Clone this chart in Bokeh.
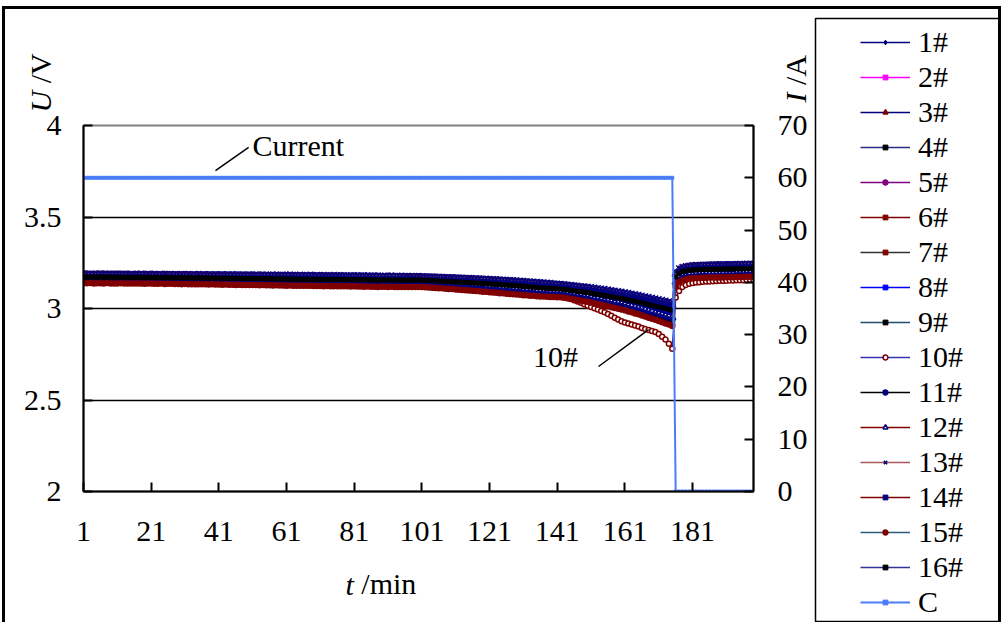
import math
from bokeh.plotting import figure
from bokeh.layouts import row
from bokeh.models import (Range1d, LinearAxis, FixedTicker, Legend, LegendItem, Label,
                          CustomJSTickFormatter)
from bokeh.embed import file_html
from bokeh.resources import INLINE

# ---------------- data ----------------
minutes = list(range(1, 200))
x_ticks = [1, 21, 41, 61, 81, 101, 121, 141, 161, 181]
u_ticks = [2, 2.5, 3, 3.5, 4]
i_ticks = [0, 10, 20, 30, 40, 50, 60, 70]

current_A = [60] * 175 + [0] * 24

# cell voltages in mV, one value per minute
v1 = [3186,3185,3185,3184,3186,3185,3184,3185,3185,3184,3185,3184,3184,3185,3183,3184,3184,3183,3184,3183,
      3184,3183,3183,3182,3184,3183,3182,3183,3182,3182,3183,3182,3181,3182,3182,3181,3182,3181,3181,3180,
      3181,3180,3181,3180,3179,3180,3180,3179,3180,3179,3179,3178,3179,3178,3178,3177,3178,3177,3177,3178,
      3177,3176,3177,3176,3176,3177,3175,3176,3176,3175,3176,3175,3175,3174,3175,3174,3174,3175,3173,3174,
      3174,3173,3174,3173,3173,3172,3173,3173,3172,3172,3173,3172,3172,3171,3172,3171,3171,3172,3171,3172,
      3171,3170,3169,3169,3168,3167,3167,3166,3165,3164,3164,3163,3162,3161,3160,3159,3158,3157,3156,3155,
      3154,3153,3152,3151,3150,3148,3147,3146,3144,3143,3142,3141,3139,3138,3137,3135,3134,3133,3131,3130,
      3129,3128,3126,3124,3122,3120,3118,3115,3113,3110,3107,3104,3102,3099,3096,3093,3091,3088,3085,3082,
      3079,3076,3072,3069,3065,3061,3057,3053,3049,3045,3041,3037,3033,3029,3025,
      3193,3213,3221,3225,3228,3230,3231,3232,3233,3233,3234,3234,3235,3235,3235,3236,3236,3236,3237,3237,3237,3238,3238,3238]
v2 = [3167,3168,3167,3166,3167,3167,3166,3168,3166,3166,3166,3167,3165,3166,3166,3165,3166,3165,3165,3164,
      3165,3165,3164,3164,3165,3163,3164,3164,3163,3163,3163,3162,3163,3162,3162,3161,3162,3161,3161,3161,
      3160,3161,3160,3160,3159,3160,3159,3159,3158,3159,3158,3158,3157,3158,3157,3157,3156,3157,3156,3156,
      3155,3156,3155,3155,3154,3155,3154,3154,3153,3154,3153,3153,3152,3153,3152,3152,3153,3151,3152,3152,
      3151,3152,3151,3151,3150,3151,3151,3150,3151,3150,3150,3151,3149,3150,3150,3149,3150,3150,3149,3150,
      3149,3148,3147,3146,3145,3144,3143,3142,3141,3140,3139,3138,3137,3136,3135,3134,3132,3131,3130,3129,
      3128,3126,3125,3124,3122,3121,3119,3118,3117,3115,3114,3112,3111,3109,3108,3106,3105,3103,3102,3101,
      3100,3099,3096,3094,3091,3088,3086,3083,3080,3077,3074,3070,3067,3063,3060,3057,3053,3050,3046,3043,
      3039,3035,3030,3026,3022,3017,3012,3008,3003,2998,2993,2989,2984,2980,2975,
      3163,3183,3191,3195,3198,3200,3201,3202,3203,3203,3204,3204,3205,3205,3205,3206,3206,3206,3207,3207,3207,3208,3208,3208]
v3 = [3182,3183,3181,3182,3182,3181,3183,3182,3181,3182,3181,3182,3180,3181,3181,3180,3182,3180,3180,3181,
      3180,3179,3180,3179,3180,3178,3179,3179,3178,3179,3178,3177,3178,3178,3177,3177,3178,3176,3177,3176,
      3177,3176,3176,3175,3176,3175,3175,3176,3174,3175,3175,3174,3174,3175,3173,3174,3173,3173,3174,3172,
      3173,3173,3172,3172,3173,3171,3172,3172,3171,3171,3172,3171,3170,3171,3170,3170,3171,3169,3170,3170,
      3169,3170,3169,3169,3168,3169,3169,3168,3168,3169,3168,3168,3167,3168,3168,3167,3167,3168,3167,3168,
      3167,3166,3165,3165,3164,3163,3162,3162,3161,3160,3159,3158,3158,3157,3156,3155,3154,3153,3152,3151,
      3150,3149,3147,3146,3145,3143,3142,3141,3139,3138,3137,3135,3134,3133,3131,3130,3128,3127,3125,3124,
      3123,3122,3120,3118,3115,3113,3111,3109,3106,3104,3101,3098,3095,3092,3089,3087,3084,3081,3078,3075,
      3071,3068,3064,3061,3057,3053,3049,3045,3041,3037,3033,3029,3025,3021,3017,
      3188,3208,3216,3220,3223,3225,3226,3227,3228,3228,3229,3229,3230,3230,3230,3231,3231,3231,3232,3232,3232,3233,3233,3233]
v4 = [3175,3176,3175,3174,3175,3175,3174,3176,3175,3174,3174,3175,3174,3173,3174,3174,3173,3174,3173,3173,
      3173,3172,3173,3172,3172,3173,3171,3172,3172,3171,3171,3172,3170,3171,3171,3170,3170,3171,3169,3170,
      3170,3169,3169,3170,3168,3169,3168,3168,3169,3167,3168,3167,3167,3168,3166,3167,3166,3166,3167,3165,
      3166,3165,3165,3166,3164,3165,3164,3164,3165,3163,3164,3163,3164,3163,3163,3162,3163,3163,3162,3162,
      3162,3163,3161,3162,3162,3161,3161,3162,3160,3161,3161,3160,3161,3160,3160,3161,3159,3160,3160,3160,
      3159,3158,3157,3156,3156,3155,3154,3153,3152,3151,3150,3149,3148,3147,3146,3145,3144,3143,3142,3141,
      3140,3139,3137,3136,3135,3133,3132,3131,3129,3128,3127,3125,3124,3122,3121,3119,3118,3116,3115,3114,
      3113,3112,3109,3107,3104,3102,3099,3097,3094,3092,3089,3086,3083,3080,3077,3073,3070,3067,3064,3061,
      3057,3053,3050,3046,3042,3038,3033,3029,3024,3020,3016,3011,3007,3002,2998,
      3178,3198,3206,3210,3213,3215,3216,3217,3218,3218,3219,3219,3220,3220,3220,3221,3221,3221,3222,3222,3222,3223,3223,3223]
v5 = [3164,3164,3165,3163,3164,3164,3163,3164,3163,3163,3163,3164,3162,3163,3163,3162,3162,3163,3161,3162,
      3162,3161,3161,3162,3160,3161,3161,3160,3160,3160,3159,3160,3159,3159,3158,3159,3158,3158,3157,3158,
      3157,3157,3156,3157,3156,3156,3155,3156,3155,3155,3154,3155,3154,3154,3153,3154,3153,3153,3152,3153,
      3152,3152,3151,3152,3151,3151,3150,3151,3150,3150,3149,3150,3149,3149,3148,3149,3148,3148,3148,3147,
      3148,3147,3147,3148,3146,3147,3147,3146,3147,3146,3146,3147,3145,3146,3146,3145,3146,3146,3145,3146,
      3145,3144,3143,3142,3141,3140,3139,3138,3137,3136,3135,3133,3132,3131,3130,3129,3128,3126,3125,3124,
      3123,3121,3120,3118,3117,3116,3114,3113,3111,3110,3108,3107,3105,3104,3102,3101,3099,3098,3097,3096,
      3095,3094,3091,3088,3086,3083,3080,3078,3075,3072,3068,3065,3061,3058,3054,3051,3047,3044,3040,3037,
      3033,3028,3024,3019,3015,3010,3005,3000,2995,2990,2985,2981,2976,2972,2967,
      3158,3178,3186,3190,3193,3195,3196,3197,3198,3198,3199,3199,3200,3200,3200,3201,3201,3201,3202,3202,3202,3203,3203,3203]
v6 = [3161,3160,3160,3161,3159,3160,3160,3159,3161,3159,3159,3160,3158,3159,3159,3158,3159,3158,3158,3157,
      3158,3157,3157,3158,3156,3157,3157,3156,3156,3156,3155,3156,3155,3155,3154,3155,3154,3154,3153,3154,
      3153,3153,3152,3153,3152,3152,3151,3152,3151,3151,3150,3151,3150,3150,3149,3150,3149,3149,3148,3149,
      3148,3148,3147,3148,3147,3147,3146,3147,3146,3146,3145,3146,3145,3145,3144,3145,3144,3144,3144,3143,
      3144,3143,3143,3144,3142,3143,3143,3142,3143,3142,3142,3143,3141,3142,3142,3141,3142,3142,3141,3142,
      3141,3140,3139,3138,3137,3136,3135,3134,3133,3132,3131,3129,3128,3127,3126,3124,3123,3122,3120,3119,
      3118,3116,3115,3113,3112,3110,3109,3107,3106,3104,3103,3101,3100,3098,3097,3095,3094,3093,3092,3091,
      3090,3090,3087,3084,3081,3078,3075,3073,3070,3067,3063,3060,3056,3052,3049,3045,3042,3038,3035,3031,
      3026,3022,3017,3013,3008,3003,2998,2993,2988,2983,2978,2973,2968,2963,2958,
      3150,3172,3181,3185,3188,3190,3191,3192,3193,3193,3194,3194,3195,3195,3195,3196,3196,3196,3197,3197,3197,3198,3198,3198]
v7 = [3151,3150,3150,3151,3149,3150,3150,3149,3150,3149,3149,3150,3148,3149,3149,3148,3148,3149,3147,3148,
      3148,3147,3147,3148,3146,3147,3147,3146,3146,3145,3146,3145,3145,3144,3145,3144,3144,3143,3144,3143,
      3143,3142,3143,3142,3142,3141,3142,3141,3141,3140,3140,3141,3139,3140,3139,3139,3138,3139,3138,3138,
      3137,3138,3137,3137,3136,3137,3136,3136,3135,3135,3135,3134,3135,3134,3134,3133,3134,3133,3133,3132,
      3133,3132,3132,3131,3132,3131,3131,3130,3131,3131,3130,3131,3130,3130,3129,3130,3130,3129,3130,3130,
      3129,3128,3127,3126,3125,3124,3122,3121,3120,3119,3118,3116,3115,3114,3112,3111,3110,3108,3107,3105,
      3104,3102,3101,3099,3098,3096,3094,3093,3091,3090,3088,3087,3085,3084,3082,3081,3079,3078,3077,3077,
      3076,3076,3073,3070,3067,3064,3061,3058,3055,3052,3048,3044,3040,3036,3032,3028,3024,3020,3016,3012,
      3007,3002,2997,2992,2987,2982,2976,2971,2965,2960,2955,2949,2944,2938,2933,
      3133,3156,3165,3170,3173,3175,3176,3177,3178,3178,3179,3179,3180,3180,3180,3181,3181,3181,3182,3182,3182,3183,3183,3183]
v8 = [3170,3170,3169,3171,3170,3169,3170,3170,3169,3169,3169,3170,3168,3169,3169,3168,3168,3169,3167,3168,
      3168,3167,3167,3168,3166,3167,3167,3166,3166,3167,3165,3166,3166,3165,3165,3164,3165,3165,3164,3164,
      3163,3164,3163,3163,3162,3163,3162,3162,3161,3162,3161,3161,3160,3161,3160,3160,3159,3160,3159,3159,
      3158,3159,3158,3158,3157,3158,3157,3157,3156,3157,3156,3156,3155,3156,3155,3155,3156,3154,3155,3155,
      3154,3155,3154,3154,3153,3154,3154,3153,3153,3154,3153,3153,3152,3153,3153,3152,3153,3152,3153,3153,
      3152,3151,3150,3149,3148,3147,3146,3145,3144,3143,3142,3141,3140,3139,3138,3137,3136,3134,3133,3132,
      3131,3130,3128,3127,3126,3124,3123,3121,3120,3119,3117,3116,3114,3113,3111,3110,3108,3107,3106,3105,
      3104,3103,3100,3098,3095,3093,3090,3087,3085,3082,3079,3075,3072,3069,3065,3062,3059,3055,3052,3049,
      3045,3041,3037,3032,3028,3023,3019,3014,3010,3005,3000,2996,2991,2987,2982,
      3168,3188,3196,3200,3203,3205,3206,3207,3208,3208,3209,3209,3210,3210,3210,3211,3211,3211,3212,3212,3212,3213,3213,3213]
v9 = [3145,3146,3145,3144,3145,3146,3144,3145,3145,3144,3144,3145,3143,3144,3144,3143,3144,3143,3143,3142,
      3143,3142,3142,3143,3141,3142,3142,3141,3141,3140,3141,3140,3140,3139,3140,3139,3139,3138,3139,3138,
      3138,3137,3138,3137,3137,3136,3137,3136,3136,3135,3135,3136,3134,3135,3134,3134,3133,3134,3133,3133,
      3132,3133,3132,3132,3131,3132,3131,3131,3130,3130,3130,3129,3130,3129,3129,3128,3129,3128,3128,3127,
      3128,3127,3127,3126,3127,3126,3126,3125,3126,3126,3125,3126,3125,3125,3124,3125,3125,3124,3125,3125,
      3124,3123,3122,3121,3119,3118,3117,3116,3114,3113,3112,3110,3109,3108,3106,3105,3103,3102,3100,3099,
      3097,3096,3094,3093,3091,3089,3088,3086,3085,3083,3082,3080,3079,3077,3076,3074,3073,3072,3071,3071,
      3070,3070,3067,3064,3061,3058,3054,3051,3048,3045,3041,3037,3033,3029,3024,3020,3016,3012,3008,3004,
      2999,2994,2988,2983,2978,2972,2967,2961,2956,2950,2944,2939,2933,2928,2922,
      3128,3151,3160,3165,3168,3170,3171,3172,3173,3173,3174,3174,3175,3175,3175,3176,3176,3176,3177,3177,3177,3178,3178,3178]
v10 = [3150,3151,3150,3149,3150,3150,3149,3151,3149,3149,3149,3150,3148,3149,3149,3148,3148,3149,3147,3148,
       3148,3147,3147,3148,3146,3147,3147,3146,3146,3145,3146,3145,3145,3144,3145,3144,3144,3143,3144,3143,
       3143,3142,3143,3142,3142,3141,3142,3141,3141,3140,3140,3141,3139,3140,3139,3139,3138,3139,3138,3138,
       3137,3138,3137,3137,3136,3137,3136,3136,3135,3135,3135,3134,3135,3134,3134,3134,3133,3134,3133,3133,
       3133,3132,3133,3132,3132,3132,3131,3132,3131,3132,3131,3132,3131,3131,3130,3131,3131,3130,3131,3132,
       3131,3130,3129,3128,3127,3125,3124,3123,3121,3120,3119,3117,3116,3114,3113,3111,3109,3108,3106,3104,
       3103,3101,3100,3098,3097,3095,3093,3091,3089,3086,3084,3083,3082,3081,3080,3079,3077,3076,3075,3073,
       3072,3070,3064,3058,3052,3045,3038,3031,3023,3015,3008,3001,2994,2987,2980,2970,2960,2950,2940,2930,
       2924,2918,2912,2907,2901,2894,2888,2882,2877,2872,2860,2845,2830,2808,2780,
       3060,3095,3118,3128,3135,3139,3142,3144,3146,3147,3148,3149,3150,3151,3151,3152,3153,3153,3154,3154,3155,3155,3156,3156]
v11 = [3178,3179,3178,3177,3178,3179,3177,3178,3178,3177,3178,3177,3177,3178,3176,3177,3177,3176,3177,3176,
       3176,3177,3175,3176,3176,3175,3176,3175,3174,3175,3175,3174,3175,3174,3173,3174,3174,3173,3173,3174,
       3173,3172,3173,3172,3172,3171,3172,3172,3171,3171,3171,3170,3171,3170,3170,3171,3169,3170,3169,3169,
       3169,3168,3169,3168,3168,3168,3167,3168,3167,3167,3167,3166,3167,3166,3166,3166,3165,3166,3166,3165,
       3165,3166,3165,3165,3164,3165,3165,3164,3164,3165,3164,3164,3163,3164,3164,3163,3163,3164,3163,3164,
       3163,3162,3161,3160,3160,3159,3158,3157,3156,3156,3155,3154,3153,3152,3151,3150,3149,3148,3147,3146,
       3145,3144,3142,3141,3140,3138,3137,3136,3134,3133,3132,3130,3129,3127,3126,3124,3123,3122,3120,3119,
       3118,3117,3115,3112,3110,3108,3105,3103,3100,3098,3095,3092,3089,3086,3083,3080,3077,3074,3071,3068,
       3064,3061,3057,3054,3050,3046,3042,3037,3033,3029,3025,3021,3017,3012,3008,
       3183,3203,3211,3215,3218,3220,3221,3222,3223,3223,3224,3224,3225,3225,3225,3226,3226,3226,3227,3227,3227,3228,3228,3228]
v12 = [3157,3158,3157,3156,3157,3158,3156,3157,3157,3156,3156,3157,3155,3156,3156,3155,3156,3155,3155,3154,
       3155,3154,3154,3155,3153,3154,3154,3153,3153,3152,3153,3152,3152,3151,3152,3151,3151,3150,3151,3150,
       3150,3149,3150,3149,3149,3148,3149,3148,3148,3147,3147,3148,3146,3147,3146,3146,3145,3146,3145,3145,
       3144,3145,3144,3144,3143,3144,3143,3143,3142,3143,3142,3142,3141,3142,3141,3141,3140,3141,3140,3140,
       3140,3139,3140,3139,3139,3139,3138,3139,3138,3139,3138,3138,3137,3138,3138,3137,3138,3138,3137,3138,
       3137,3136,3135,3134,3133,3132,3131,3130,3128,3127,3126,3125,3124,3122,3121,3120,3118,3117,3116,3114,
       3113,3111,3110,3108,3107,3105,3104,3102,3101,3099,3098,3096,3095,3093,3092,3090,3089,3088,3087,3086,
       3086,3085,3082,3079,3076,3073,3070,3068,3065,3062,3058,3054,3051,3047,3043,3040,3036,3032,3029,3025,
       3020,3015,3011,3006,3001,2996,2991,2985,2980,2975,2970,2965,2960,2955,2950,
       3145,3167,3176,3180,3183,3185,3186,3187,3188,3188,3189,3189,3190,3190,3190,3191,3191,3191,3192,3192,3192,3193,3193,3193]
v13 = [3192,3190,3191,3189,3190,3192,3190,3189,3191,3190,3190,3191,3189,3190,3190,3188,3190,3191,3189,3190,
       3189,3190,3188,3189,3190,3188,3189,3189,3187,3189,3188,3189,3187,3188,3189,3187,3188,3188,3186,3188,
       3187,3188,3186,3187,3188,3186,3187,3187,3185,3187,3186,3187,3185,3186,3186,3184,3186,3186,3184,3185,
       3185,3186,3184,3184,3185,3183,3184,3185,3183,3184,3183,3184,3182,3183,3184,3182,3183,3183,3181,3182,
       3182,3183,3181,3181,3182,3180,3181,3181,3179,3180,3180,3181,3179,3179,3180,3178,3178,3179,3177,3178,
       3177,3176,3176,3175,3174,3174,3173,3172,3172,3171,3170,3169,3169,3168,3167,3166,3166,3165,3164,3163,
       3162,3161,3160,3159,3158,3157,3156,3155,3154,3152,3151,3150,3148,3147,3146,3144,3143,3141,3140,3138,
       3136,3135,3133,3131,3129,3127,3125,3123,3121,3119,3117,3114,3112,3109,3107,3104,3101,3098,3095,3092,
       3089,3085,3082,3078,3075,3071,3067,3063,3059,3055,3051,3047,3043,3039,3035,
       3200,3220,3228,3232,3235,3237,3238,3239,3240,3240,3241,3241,3242,3242,3242,3243,3243,3243,3244,3244,3244,3245,3245,3245]
v14 = [3154,3154,3155,3153,3154,3154,3153,3155,3153,3153,3153,3154,3152,3153,3153,3152,3152,3153,3151,3152,
       3152,3151,3151,3152,3150,3151,3151,3150,3150,3149,3150,3149,3149,3148,3149,3148,3148,3147,3148,3147,
       3147,3146,3147,3146,3146,3145,3146,3145,3145,3144,3144,3145,3143,3144,3143,3143,3142,3143,3142,3142,
       3141,3142,3141,3141,3140,3141,3140,3140,3139,3140,3139,3139,3138,3139,3138,3138,3137,3138,3137,3137,
       3137,3136,3137,3136,3136,3136,3135,3136,3135,3136,3135,3135,3134,3135,3135,3134,3135,3135,3134,3135,
       3134,3133,3132,3131,3130,3129,3127,3126,3125,3124,3123,3121,3120,3119,3117,3116,3115,3113,3112,3110,
       3109,3107,3106,3104,3103,3101,3100,3098,3096,3095,3093,3092,3090,3089,3087,3086,3084,3083,3082,3082,
       3081,3081,3078,3075,3072,3069,3066,3063,3060,3057,3053,3049,3045,3042,3038,3034,3030,3026,3023,3019,
       3014,3009,3004,3000,2995,2990,2984,2979,2973,2968,2963,2958,2952,2947,2942,
       3140,3162,3171,3175,3178,3180,3181,3182,3183,3183,3184,3184,3185,3185,3185,3186,3186,3186,3187,3187,3187,3188,3188,3188]
v15 = [3138,3138,3139,3137,3138,3138,3137,3139,3137,3137,3137,3138,3136,3137,3137,3136,3136,3137,3135,3136,
       3136,3135,3135,3136,3134,3135,3135,3134,3134,3133,3134,3133,3133,3132,3133,3132,3132,3131,3132,3131,
       3131,3130,3131,3130,3130,3129,3130,3129,3129,3128,3128,3129,3127,3128,3127,3127,3126,3127,3126,3126,
       3125,3126,3125,3125,3124,3125,3124,3124,3123,3123,3123,3122,3123,3122,3122,3121,3122,3121,3121,3120,
       3121,3120,3120,3119,3120,3119,3119,3118,3119,3119,3118,3119,3118,3118,3117,3118,3118,3117,3118,3118,
       3117,3116,3115,3114,3112,3111,3110,3108,3107,3106,3104,3103,3101,3100,3098,3097,3095,3094,3092,3091,
       3089,3088,3086,3084,3083,3081,3079,3078,3076,3075,3073,3072,3070,3069,3067,3066,3065,3064,3063,3063,
       3062,3062,3059,3056,3053,3049,3046,3043,3040,3037,3033,3028,3024,3020,3016,3012,3007,3003,2999,2995,
       2990,2984,2979,2973,2968,2962,2956,2950,2944,2938,2932,2925,2918,2912,2905,
       3120,3145,3155,3160,3163,3165,3166,3167,3168,3168,3169,3169,3170,3170,3170,3171,3171,3171,3172,3172,3172,3173,3173,3173]
v16 = [3172,3171,3172,3172,3171,3173,3171,3171,3172,3170,3171,3171,3170,3171,3170,3170,3171,3169,3170,3170,
       3169,3170,3169,3168,3169,3169,3168,3168,3169,3167,3168,3168,3167,3167,3168,3166,3167,3167,3166,3166,
       3166,3165,3166,3165,3165,3164,3165,3164,3164,3163,3164,3163,3163,3162,3163,3162,3162,3161,3162,3161,
       3161,3160,3161,3160,3160,3159,3160,3159,3159,3158,3159,3158,3158,3159,3157,3158,3158,3157,3157,3158,
       3157,3156,3157,3157,3156,3156,3157,3155,3156,3156,3156,3155,3156,3155,3155,3156,3154,3155,3156,3156,
       3155,3154,3153,3152,3151,3150,3149,3148,3147,3146,3145,3144,3143,3142,3141,3140,3139,3138,3137,3136,
       3135,3133,3132,3131,3129,3128,3127,3125,3124,3123,3121,3120,3118,3117,3115,3114,3112,3111,3110,3109,
       3108,3107,3104,3102,3099,3097,3094,3092,3089,3087,3084,3080,3077,3074,3071,3068,3064,3061,3058,3055,
       3051,3047,3043,3039,3035,3030,3026,3021,3017,3012,3008,3003,2999,2994,2990,
       3173,3193,3201,3205,3208,3210,3211,3212,3213,3213,3214,3214,3215,3215,3215,3216,3216,3216,3217,3217,3217,3218,3218,3218]

series_names = ["1#", "2#", "3#", "4#", "5#", "6#", "7#", "8#",
                "9#", "10#", "11#", "12#", "13#", "14#", "15#", "16#"]
series_mv = [v1, v2, v3, v4, v5, v6, v7, v8, v9, v10, v11, v12, v13, v14, v15, v16]

# annotation texts and leader lines (x in minutes, y in V)
ann_current = "Current"
ann_cell = "10#"
lead_x0 = [40.0, 153.2]
lead_y0 = [3.754, 2.683]
lead_x1 = [49.8, 168.0]
lead_y1 = [3.880, 2.885]

# ---------------- styles ----------------
styles = [
    ("#000080", "diamond", "#000080", "#000080", 8),
    ("#FF00FF", "square", "#FF00FF", "#FF00FF", 4),
    ("#000080", "triangle", "#800000", "#800000", 7),
    ("#2B2B8C", "square", "#000000", "#000000", 4),
    ("#800080", "circle", "#800080", "#800080", 2),
    ("#800000", "square", "#800000", "#800000", 5),
    ("#333333", "square", "#800000", "#800000", 3),
    ("#0000FF", "square", "#0000FF", "#0000FF", 5),
    ("#1F4E6E", "square", "#000000", "#000000", 5),
    ("#3333B3", "circle", "#FFFFFF", "#800000", 5),
    ("#000000", "circle", "#000080", "#000080", 5),
    ("#800000", "triangle", "#FFFFFF", "#000080", 7),
    ("#A85858", "x", None, "#000080", 8),
    ("#800000", "square", "#000080", "#000080", 3),
    ("#2A5C7A", "circle", "#800000", "#800000", 5),
    ("#333399", "square", "#000000", "#000000", 4),
]
CUR = "#4A7CF7"
FONT = "Liberation Serif"
FS = "30px"
BORDER = "3px solid black"
NB = "\u00a0"

# main canvas sits at page (5, 9): CSS margin + border
OX, OY = 5, 9
WM, H = 812, 616
FL, FR, FT, FB = 83 - OX, 753 - OX, 125 - OY, 491 - OY

p = figure(width=WM, height=H, output_backend="svg", toolbar_location=None,
           x_range=Range1d(1, 199), y_range=Range1d(2, 4),
           min_border_left=FL, min_border_right=WM - FR,
           min_border_top=FT, min_border_bottom=H - FB)
p.margin = (6, 0, 0, 2)
p.styles = {"border-top": BORDER, "border-left": BORDER}
p.background_fill_color = "white"
p.border_fill_color = "white"
p.outline_line_color = "#808080"
p.outline_line_width = 2
p.xgrid.grid_line_color = None
p.ygrid.ticker = FixedTicker(ticks=[2.5, 3, 3.5])
p.ygrid.grid_line_color = "black"
p.ygrid.grid_line_width = 1.5

lax = p.left[0]
xax = p.below[0]
xax.ticker = FixedTicker(ticks=x_ticks)
lax.ticker = FixedTicker(ticks=u_ticks)
lax.formatter = CustomJSTickFormatter(code="return String(tick)")

p.extra_y_ranges = {"I": Range1d(0, 70)}
rax = LinearAxis(y_range_name="I", ticker=FixedTicker(ticks=i_ticks))
p.add_layout(rax, "right")

for ax in [xax, lax, rax]:
    ax.axis_line_color = "black"
    ax.axis_line_width = 2
    ax.major_tick_in = 9
    ax.major_tick_out = 0
    ax.major_tick_line_width = 2
    ax.major_tick_line_color = "black"
    ax.minor_tick_in = 0
    ax.minor_tick_out = 0
    ax.major_label_text_font = FONT
    ax.major_label_text_font_size = FS
    ax.major_label_text_color = "black"
xax.major_label_standoff = 30
lax.major_label_standoff = 22
rax.major_label_standoff = 24

legend_specs = []
for name, mv, st in zip(series_names, series_mv, styles):
    assert len(mv) == len(minutes), (name, len(mv))
    ys = [m / 1000.0 for m in mv]
    lc, mk, mf, ml, ms = st
    p.line(minutes, ys, line_color=lc, line_width=1.6)
    p.scatter(minutes, ys, marker=mk, size=ms, fill_color=mf, line_color=ml,
              line_width=1.5 if mk in ("x", "triangle", "circle") else 1)
    legend_specs.append((name, lc, mk, mf, ml))

p.line(minutes, current_A, y_range_name="I", line_color=CUR, line_width=2)
p.scatter(minutes, current_A, y_range_name="I", marker="square", size=3,
          fill_color=CUR, line_color=CUR)
legend_specs.append(("C", CUR, "square", CUR, CUR))

p.segment(x0=lead_x0, y0=lead_y0, x1=lead_x1, y1=lead_y1, line_color="black", line_width=1.5)

def lab(text, x, y, place, angle=0.0, style="normal", align="left"):
    p.add_layout(Label(x=x, y=y, x_units="screen", y_units="screen", text=text,
                       angle=angle, text_font=FONT, text_font_size=FS,
                       text_font_style=style, text_align=align,
                       text_baseline="middle", text_color="black"), place)

# axis titles live in side panels (positions are relative to their slot)
lab("U", -43, 13, "above", math.pi / 2, "italic")
lab(NB + "/V", -43, 12.7, "above", math.pi / 2)
lab("I", 712, -37, "above", math.pi / 2, "italic")
lab(NB + "/A", 712, -37, "above", math.pi / 2)
lab("t", 262, -8, "below", 0, "italic")
lab(NB + "/min", 270.3, 26, "below")

# in-plot annotations (frame relative)
p.add_layout(Label(x=169, y=346, x_units="screen", y_units="screen", text=ann_current,
                   text_font=FONT, text_font_size=FS, text_baseline="middle", text_color="black"))
p.add_layout(Label(x=472, y=135, x_units="screen", y_units="screen", text=ann_cell,
                   text_font=FONT, text_font_size=FS, text_align="center",
                   text_baseline="middle", text_color="black"))

# ---------------- legend panel (its frame outline is the legend box) ----------------
WL = 187
q = figure(width=WL, height=H, output_backend="svg", toolbar_location=None,
           x_range=Range1d(0, 1), y_range=Range1d(0, 1),
           x_axis_location=None, y_axis_location=None,
           min_border_left=1, min_border_right=2, min_border_top=9, min_border_bottom=4)
q.margin = (6, 0, 0, 0)
q.styles = {"border-top": BORDER, "border-right": BORDER}
q.background_fill_color = "white"
q.border_fill_color = "white"
q.outline_line_color = "black"
q.outline_line_width = 1.5
q.xgrid.visible = False
q.ygrid.visible = False
for fig in (p, q):
    if "frame_align" in fig.properties():
        fig.frame_align = False

items = []
for name, lc, mk, mf, ml in legend_specs:
    # legend swatches: one point kept outside the visible range of this panel
    lr = q.line(x=[-5, -4], y=[-5, -5], line_color=lc, line_width=2 if name == "C" else 1.6)
    sr = q.scatter(x=[-5], y=[-5], marker=mk, fill_color=mf, line_color=ml,
                   line_width=1.5 if mk in ("x", "triangle", "circle") else 1)
    items.append(LegendItem(label=name, renderers=[lr, sr]))

legend = Legend(items=items, location=(45, 2), orientation="vertical",
                padding=0, spacing=1, margin=0,
                label_height=34, glyph_height=12, glyph_width=50, label_standoff=8,
                label_text_font=FONT, label_text_font_size=FS, label_text_color="black",
                border_line_alpha=0, background_fill_alpha=0)
q.add_layout(legend)

layout = row(p, q)
open("out.html", "w").write(file_html(layout, INLINE))
